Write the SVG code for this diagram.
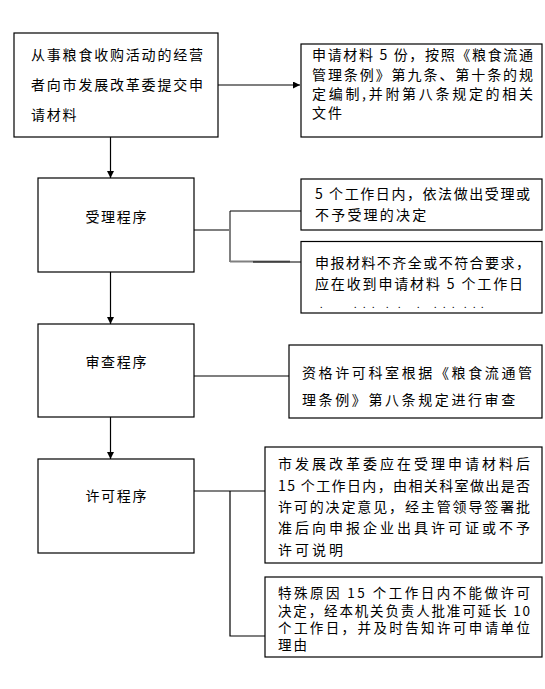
<svg xmlns="http://www.w3.org/2000/svg" width="545" height="689" viewBox="0 0 545 689">
<style>
  .box { fill: #ffffff; stroke: #000000; stroke-width: 1.2; }
  .t { font-family: "Noto Sans CJK SC", "Noto Sans CJK JP", sans-serif; font-size: 14px; fill: #000000; }
  .s { font-size: 13.5px; }
  .ln { fill: none; stroke: #000000; stroke-width: 1.2; }
  .gl { fill: none; stroke: #808080; stroke-width: 2; }
</style>
<defs>
  <marker id="ah" viewBox="0 0 10 10" refX="10" refY="5" markerWidth="7" markerHeight="7" markerUnits="userSpaceOnUse" orient="auto">
    <path d="M0,0 L10,5 L0,10 z" fill="#000000"/>
  </marker>
</defs>
<rect width="545" height="689" fill="#ffffff"/>

<g id="connectors">
  <line class="ln" x1="218" y1="85" x2="300" y2="85" marker-end="url(#ah)"/>
  <line class="ln" x1="110.5" y1="137" x2="110.5" y2="178" marker-end="url(#ah)"/>
  <line class="ln" x1="110.5" y1="272" x2="110.5" y2="324" marker-end="url(#ah)"/>
  <line class="ln" x1="110.5" y1="417" x2="110.5" y2="459" marker-end="url(#ah)"/>
  <line class="ln" x1="194" y1="230" x2="230" y2="230"/>
  <line class="gl" x1="230" y1="211" x2="230" y2="262"/>
  <line class="ln" x1="230" y1="211" x2="301" y2="211"/>
  <line class="gl" x1="230" y1="261.5" x2="290" y2="261.5"/>
  <line class="ln" x1="253" y1="262" x2="301" y2="262"/>
  <line class="ln" x1="194" y1="376" x2="289" y2="376"/>
  <line class="gl" x1="194" y1="491" x2="265" y2="491"/>
  <polyline class="ln" points="230,491 230,636 265,636"/>
</g>

<g id="n1">
  <rect class="box" x="14" y="33" width="204" height="104"/>
  <text class="t" x="31" y="60.3" textLength="172" lengthAdjust="spacing">从事粮食收购活动的经营</text>
  <text class="t" x="31" y="90.3" textLength="172" lengthAdjust="spacing">者向市发展改革委提交申</text>
  <text class="t" x="31" y="120.3" letter-spacing="1.8">请材料</text>
</g>

<g id="n1r">
  <rect class="box" x="301" y="44" width="241" height="93"/>
  <text class="t" x="312" y="60.3" textLength="221" lengthAdjust="spacing">申请材料 5 份，按照《粮食流通</text>
  <text class="t" x="312" y="79.6" textLength="221" lengthAdjust="spacing">管理条例》第九条、第十条的规</text>
  <text class="t" x="312" y="98.9" textLength="221" lengthAdjust="spacing">定编制,并附第八条规定的相关</text>
  <text class="t" x="312" y="118" letter-spacing="2.1">文件</text>
</g>

<g id="n2">
  <rect class="box" x="38" y="178" width="156" height="94"/>
  <text class="t" x="116.8" y="222" text-anchor="middle" letter-spacing="1.7">受理程序</text>
</g>

<g id="n2a">
  <rect class="box" x="301" y="179" width="241" height="51"/>
  <text class="t" x="315" y="198.6" textLength="215" lengthAdjust="spacing">5 个工作日内，依法做出受理或</text>
  <text class="t" x="315" y="220.3" letter-spacing="2.2">不予受理的决定</text>
</g>

<g id="n2b">
  <rect class="box" x="301" y="241.5" width="241" height="71.5"/>
  <text class="t" x="315" y="267.6" textLength="215" lengthAdjust="spacing">申报材料不齐全或不符合要求，</text>
  <text class="t" x="315" y="288.6" textLength="208" lengthAdjust="spacing">应在收到申请材料 5 个工作日</text>
  <text class="t" x="320 354 363 372 386 398 417 434 443 452 464 473 481" y="308" style="font-size:9px">.............</text>
</g>

<g id="n3">
  <rect class="box" x="38" y="324" width="156" height="93"/>
  <text class="t" x="116.8" y="367" text-anchor="middle" letter-spacing="1.7">审查程序</text>
</g>

<g id="n3r">
  <rect class="box" x="289" y="345" width="253" height="73"/>
  <text class="t" x="302" y="378" textLength="230" lengthAdjust="spacing">资格许可科室根据《粮食流通管</text>
  <text class="t" x="302" y="404.6" letter-spacing="2.6">理条例》第八条规定进行审查</text>
</g>

<g id="n4">
  <rect class="box" x="38" y="459" width="156" height="94"/>
  <text class="t" x="116.8" y="501.3" text-anchor="middle" letter-spacing="1.7">许可程序</text>
</g>

<g id="n4a">
  <rect class="box" x="265" y="447" width="277" height="116"/>
  <text class="t" x="278" y="468.5" textLength="252" lengthAdjust="spacing">市发展改革委应在受理申请材料后</text>
  <text class="t" x="278" y="490.5" textLength="252" lengthAdjust="spacing">15 个工作日内，由相关科室做出是否</text>
  <text class="t" x="278" y="511.5" textLength="252" lengthAdjust="spacing">许可的决定意见，经主管领导签署批</text>
  <text class="t" x="278" y="533" textLength="252" lengthAdjust="spacing">准后向申报企业出具许可证或不予</text>
  <text class="t" x="278" y="554.5" letter-spacing="3">许可说明</text>
</g>

<g id="n4b">
  <rect class="box" x="265" y="577" width="277" height="80"/>
  <text class="t s" x="278" y="598.3" textLength="252" lengthAdjust="spacing">特殊原因 15 个工作日内不能做许可</text>
  <text class="t s" x="278" y="615.6" textLength="252" lengthAdjust="spacing">决定，经本机关负责人批准可延长 10</text>
  <text class="t s" x="278" y="632.9" textLength="252" lengthAdjust="spacing">个工作日，并及时告知许可申请单位</text>
  <text class="t s" x="278" y="650.2" letter-spacing="1.9">理由</text>
</g>
</svg>
